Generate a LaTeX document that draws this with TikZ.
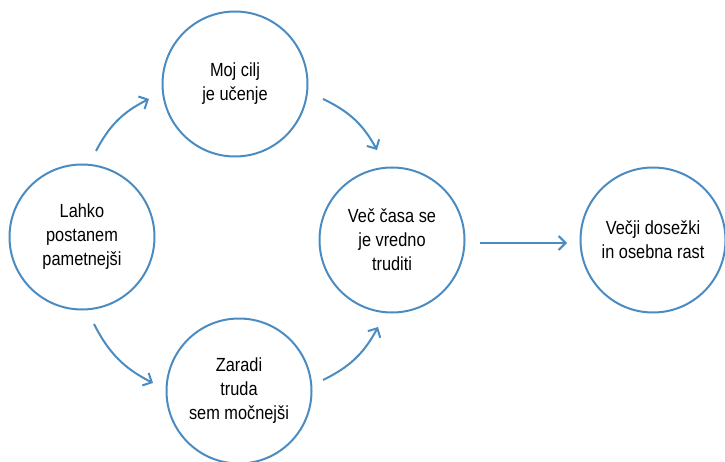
\documentclass[tikz,border=0pt]{standalone}
\usepackage{fontspec}
\setmainfont{Liberation Sans}[FakeStretch=0.86]
\usetikzlibrary{arrows.meta}
\definecolor{cblue}{RGB}{74,140,194}
\tikzset{
  circ/.style={circle, draw=cblue, line width=2pt, minimum size=145pt, inner sep=0pt,
    align=center, font=\fontsize{19pt}{24pt}\selectfont, text=black},
  conn/.style={draw=cblue, line width=2pt, -{Straight Barb[length=7pt,width=14pt,line width=2pt]}}
}
\begin{document}
\begin{tikzpicture}[x=1pt,y=-1pt]
\useasboundingbox (0,0) rectangle (725,462);
\node[circ] (left) at (82,237) {Lahko\\postanem\\pametnejši};
\node[circ] (top) at (235,84) {Moj cilj\\je učenje};
\node[circ] (mid) at (392,240) {Več časa se\\je vredno\\truditi};
\node[circ] (bot) at (239,391) {Zaradi\\truda\\sem močnejši};
\node[circ] (right) at (653,240) {Večji dosežki\\in osebna rast};
\coordinate (a1s) at (96,151);  \coordinate (a1e) at (149,99);
\coordinate (a2s) at (323,99);  \coordinate (a2e) at (377,150);
\coordinate (a3s) at (94,324);  \coordinate (a3e) at (153,383);
\coordinate (a4s) at (323,380); \coordinate (a4e) at (378,327);
\coordinate (a5s) at (480,243); \coordinate (a5e) at (567,243);
\draw[conn] (a1s) to[bend left=18] (a1e);
\draw[conn] (a2s) to[bend left=18] (a2e);
\draw[conn] (a3s) to[bend right=18] (a3e);
\draw[conn] (a4s) to[bend right=18] (a4e);
\draw[conn] (a5s) -- (a5e);
\end{tikzpicture}
\end{document}
